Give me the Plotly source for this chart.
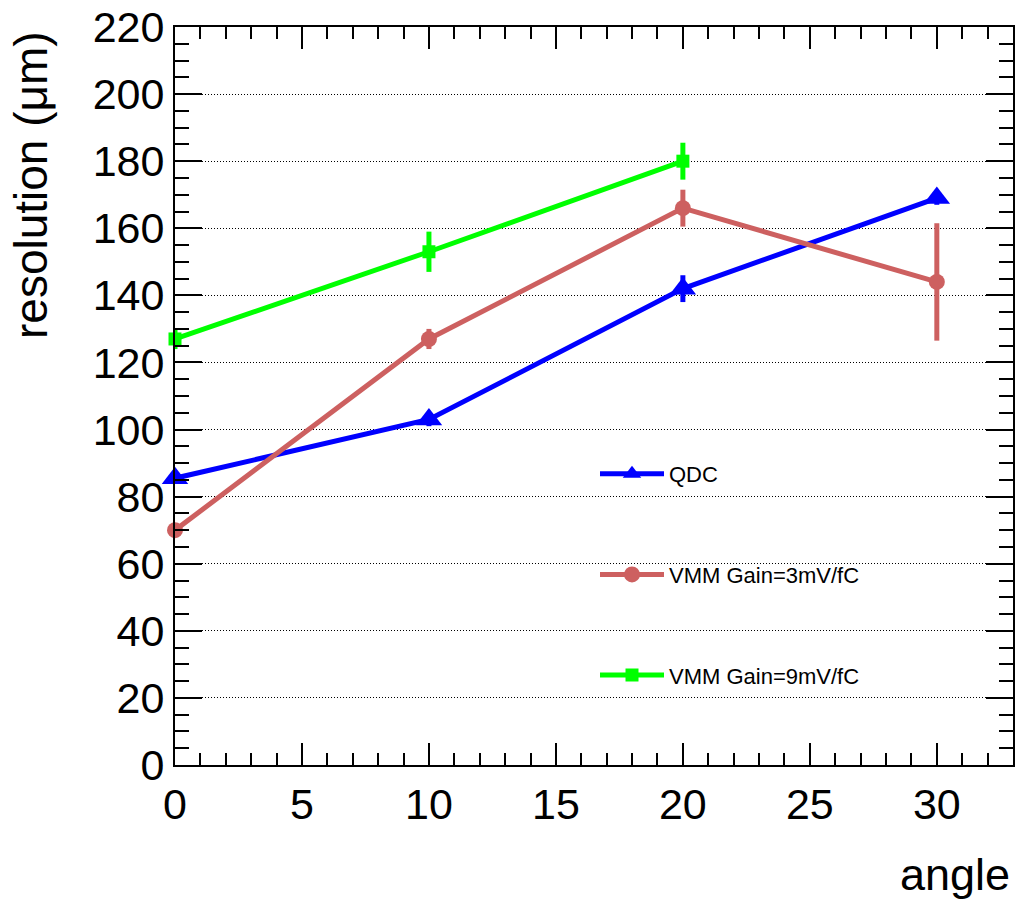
import plotly.graph_objects as go

# ---- data ----
angles_qdc = [0, 10, 20, 30]
res_qdc = [85.5, 103, 142, 169]
err_qdc = [1.5, 2, 4, 2]

angles_vmm3 = [0, 10, 20, 30]
res_vmm3 = [70, 127, 166, 144]
err_vmm3 = [1.5, 3, 5.5, 17.5]

angles_vmm9 = [0, 10, 20]
res_vmm9 = [127, 153, 180]
err_vmm9 = [3, 6, 5.5]

x_ticks = [0, 5, 10, 15, 20, 25, 30]
y_ticks = list(range(0, 221, 20))

FONT = "Liberation Sans, Arial, Helvetica, sans-serif"
BLUE = "rgb(0,0,255)"
RED = "rgb(205,96,96)"
GREEN = "rgb(0,255,0)"

fig = go.Figure()

def add(xs, ys, es, color, symbol, size, name):
    fig.add_trace(go.Scatter(
        x=xs, y=ys, mode="lines+markers", name=name, legendgroup=name,
        line=dict(color=color, width=5),
        marker=dict(color=color, symbol=symbol, size=size),
        error_y=dict(type="data", array=es, visible=True, color=color,
                     thickness=5, width=0),
        cliponaxis=False,
    ))

add(angles_qdc, res_qdc, err_qdc, BLUE, "triangle-up", 23, "QDC")
add(angles_vmm3, res_vmm3, err_vmm3, RED, "circle", 16, "VMM Gain=3mV/fC")
add(angles_vmm9, res_vmm9, err_vmm9, GREEN, "square", 13, "VMM Gain=9mV/fC")

W, H = 1015, 900
L, R, T, B = 175, 2, 27, 135
pw = W - L - R
ph = H - T - B

def px(xp):
    return (xp - L) / pw

def py(yp):
    return (H - B - yp) / ph

# white legend box hiding the grid
fig.add_shape(type="rect", xref="paper", yref="paper",
              x0=px(585), x1=px(953), y0=py(712), y1=py(422),
              fillcolor="white", line=dict(width=0), layer="between")

axis_common = dict(
    showline=True, linecolor="black", linewidth=2, mirror="ticks",
    ticks="inside", tickcolor="black", tickwidth=2,
    tickfont=dict(family=FONT, size=43, color="black"),
    zeroline=False,
)

fig.update_xaxes(
    range=[0, 33], tickmode="array", tickvals=x_ticks,
    ticktext=[str(v) for v in x_ticks], ticklen=22, showgrid=False,
    minor=dict(dtick=1, ticklen=12, ticks="inside", tickcolor="black",
               tickwidth=2, showgrid=False),
    **axis_common,
)
fig.update_yaxes(
    range=[0, 220], tickmode="array", tickvals=y_ticks,
    ticktext=[str(v) for v in y_ticks], ticklen=27,
    showgrid=True, gridcolor="black", gridwidth=1, griddash="1px,2px",
    minor=dict(dtick=5, ticklen=14, ticks="inside", tickcolor="black",
               tickwidth=2, showgrid=False),
    **axis_common,
)

fig.add_annotation(text="angle", xref="paper", yref="paper",
                   x=px(1012), y=py(874), xanchor="right", yanchor="middle",
                   showarrow=False, font=dict(family=FONT, size=45, color="black"))
fig.add_annotation(text="resolution (μm)", xref="paper", yref="paper",
                   x=px(31), y=py(185), xanchor="center", yanchor="middle",
                   textangle=-90, showarrow=False,
                   font=dict(family=FONT, size=46, color="black"))

fig.update_layout(
    width=W, height=H,
    margin=dict(l=L, r=R, t=T, b=B, autoexpand=False),
    paper_bgcolor="white", plot_bgcolor="white",
    showlegend=True,
    legend=dict(x=px(595), y=py(453), xanchor="left", yanchor="top",
                bgcolor="rgba(0,0,0,0)", borderwidth=0,
                font=dict(family=FONT, size=22, color="black"),
                itemwidth=64, tracegroupgap=69),
)

fig.write_html("out.html")
